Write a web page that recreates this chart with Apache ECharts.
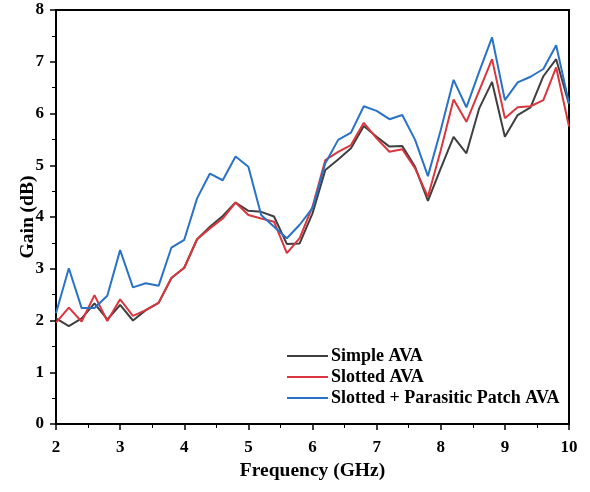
<!DOCTYPE html>
<html>
<head>
<meta charset="utf-8">
<script src="https://cdn.jsdelivr.net/npm/echarts@6/dist/echarts.min.js"></script>
<style>
  html, body { margin: 0; padding: 0; background: #fff; }
  #main { width: 590px; height: 492px; }
</style>
</head>
<body>
<div id="main"></div>
<script>
// frequency points (GHz)
var freq = [2.0, 2.2, 2.4, 2.6, 2.8, 3.0, 3.2, 3.4, 3.6, 3.8,
            4.0, 4.2, 4.4, 4.6, 4.8, 5.0, 5.2, 5.4, 5.6, 5.8,
            6.0, 6.2, 6.4, 6.6, 6.8, 7.0, 7.2, 7.4, 7.6, 7.8,
            8.0, 8.2, 8.4, 8.6, 8.8, 9.0, 9.2, 9.4, 9.6, 9.8, 10.0];

// gain (dB)
var simpleAVA = [2.04, 1.89, 2.04, 2.33, 2.02, 2.30, 2.00, 2.20, 2.34, 2.82,
                 3.02, 3.57, 3.81, 4.02, 4.28, 4.12, 4.10, 4.01, 3.48, 3.49,
                 4.07, 4.91, 5.11, 5.33, 5.76, 5.55, 5.36, 5.37, 4.97, 4.31,
                 4.94, 5.55, 5.23, 6.10, 6.61, 5.55, 5.97, 6.12, 6.72, 7.05, 6.18];
var slottedAVA = [1.96, 2.25, 1.98, 2.49, 1.99, 2.41, 2.09, 2.20, 2.34, 2.82,
                  3.02, 3.57, 3.78, 3.97, 4.28, 4.04, 3.97, 3.91, 3.30, 3.59,
                  4.20, 5.10, 5.26, 5.39, 5.82, 5.52, 5.26, 5.31, 4.94, 4.39,
                  5.29, 6.27, 5.84, 6.44, 7.05, 5.91, 6.12, 6.14, 6.26, 6.89, 5.75];
var parasiticAVA = [2.14, 3.01, 2.24, 2.24, 2.48, 3.36, 2.64, 2.72, 2.67, 3.41,
                    3.56, 4.36, 4.84, 4.71, 5.17, 4.97, 4.04, 3.81, 3.59, 3.85,
                    4.17, 5.04, 5.49, 5.63, 6.14, 6.05, 5.89, 5.97, 5.49, 4.79,
                    5.68, 6.65, 6.12, 6.81, 7.47, 6.26, 6.60, 6.71, 6.86, 7.32, 6.20];

var names = ['Simple AVA', 'Slotted AVA', 'Slotted + Parasitic Patch AVA'];
var colors = ['#3f3f3f', '#d9363e', '#2a72c6'];

function pairs(ys) {
    var out = [];
    for (var i = 0; i < freq.length; i++) {
        out.push([freq[i], ys[i]]);
    }
    return out;
}

var font = 'Liberation Serif';
var myChart = echarts.init(document.getElementById('main'));
myChart.setOption({
    animation: false,
    textStyle: { fontFamily: font, fontWeight: 'bold', color: '#000' },
    grid: {
        left: 56, right: 21, top: 10, bottom: 68,
        outerBoundsMode: 'none',
        show: true, borderColor: '#000', borderWidth: 2
    },
    legend: {
        orient: 'vertical',
        left: 282, top: 342,
        itemWidth: 41, itemHeight: 2, itemGap: 3,
        icon: 'rect',
        data: names,
        textStyle: { fontFamily: font, fontWeight: 'bold', fontSize: 18, color: '#000', padding: [0, 0, 0, -2] }
    },
    xAxis: {
        type: 'value',
        min: 2, max: 10, interval: 1,
        name: 'Frequency (GHz)',
        nameLocation: 'middle',
        nameGap: 37,
        nameMoveOverlap: false,
        nameTextStyle: { fontFamily: font, fontWeight: 'bold', fontSize: 19.5, color: '#000' },
        axisLine: { lineStyle: { color: '#000', width: 2 } },
        axisTick: { inside: false, length: 6, lineStyle: { color: '#000', width: 1.5 } },
        minorTick: { show: true, splitNumber: 2, length: 4, lineStyle: { color: '#000', width: 1 } },
        axisLabel: { fontFamily: font, fontWeight: 'bold', fontSize: 17, color: '#000', margin: 15 },
        splitLine: { show: false }
    },
    yAxis: {
        type: 'value',
        min: 0, max: 8, interval: 1,
        name: 'Gain (dB)',
        nameLocation: 'middle',
        nameGap: 18,
        nameMoveOverlap: false,
        nameTextStyle: { fontFamily: font, fontWeight: 'bold', fontSize: 19.5, color: '#000' },
        axisLine: { show: true, lineStyle: { color: '#000', width: 2 } },
        axisTick: { show: true, inside: false, length: 6, lineStyle: { color: '#000', width: 1.5 } },
        minorTick: { show: true, splitNumber: 2, length: 4, lineStyle: { color: '#000', width: 1 } },
        axisLabel: { fontFamily: font, fontWeight: 'bold', fontSize: 17, color: '#000', margin: 12 },
        splitLine: { show: false }
    },
    series: [
        { name: names[0], type: 'line', data: pairs(simpleAVA), symbol: 'none',
          color: colors[0], lineStyle: { width: 2 } },
        { name: names[1], type: 'line', data: pairs(slottedAVA), symbol: 'none',
          color: colors[1], lineStyle: { width: 2 } },
        { name: names[2], type: 'line', data: pairs(parasiticAVA), symbol: 'none',
          color: colors[2], lineStyle: { width: 2 } }
    ]
});
</script>
</body>
</html>
